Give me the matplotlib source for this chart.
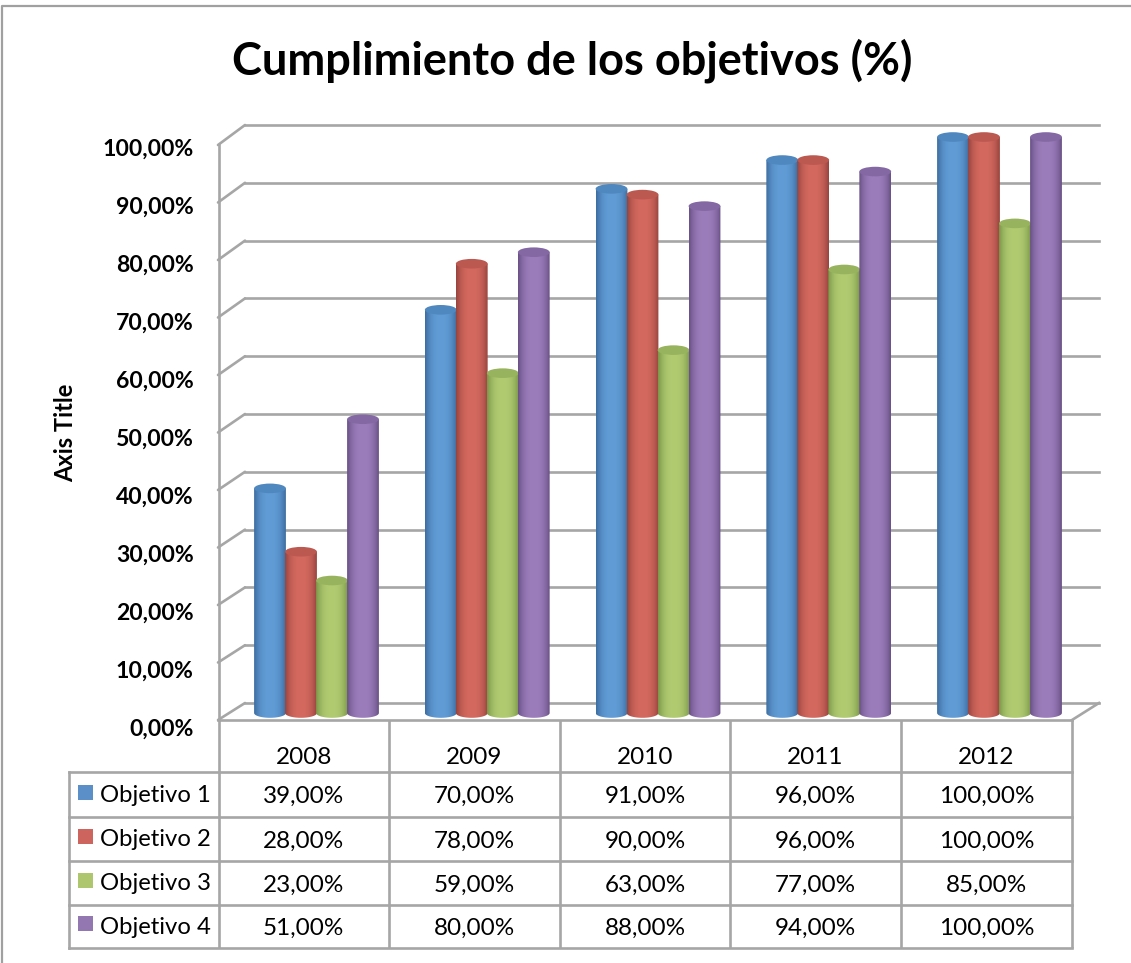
import numpy as np
import matplotlib
matplotlib.use("Agg")
import matplotlib.pyplot as plt
from matplotlib.path import Path
from matplotlib.patches import PathPatch, Ellipse, Rectangle
from matplotlib.colors import to_rgb

plt.rcParams['font.family'] = ['Lato', 'DejaVu Sans']

years = ['2008', '2009', '2010', '2011', '2012']
series_names = ['Objetivo 1', 'Objetivo 2', 'Objetivo 3', 'Objetivo 4']
objetivo_1 = [39, 70, 91, 96, 100]
objetivo_2 = [28, 78, 90, 96, 100]
objetivo_3 = [23, 59, 63, 77, 85]
objetivo_4 = [51, 80, 88, 94, 100]
series = [objetivo_1, objetivo_2, objetivo_3, objetivo_4]
yticks = list(range(0, 101, 10))

base_cols = ['#619cd6', '#d4695f', '#b0cb70', '#9b7dbb']
edge_cols = ['#3c6c9f', '#96433d', '#7b9749', '#695085']
cap_cols = ['#4f87bf', '#bb5850', '#98b35d', '#8468a4']
legend_cols = ['#5b8fc7', '#cd655e', '#aec76f', '#9377b0']
GRID = '#a6a6a6'
LW = 1.9
W, H = 1131, 963

fig = plt.figure(figsize=(W / 100, H / 100), dpi=100, facecolor='white')


def box(x0, ytop, x1, ybot):
    return [x0 / W, 1 - ybot / H, (x1 - x0) / W, (ybot - ytop) / H]


# pixel-space layer for frame, walls and table rules
chrome = fig.add_axes([0, 0, 1, 1], zorder=0)
chrome.set_xlim(0, W)
chrome.set_ylim(H, 0)
chrome.axis('off')

chrome.plot([2, 2, W], [H, 6, 6], color='#a0a0a0', lw=1.6)

# back wall grid
back = fig.add_axes(box(245, 125, 1099, 703), zorder=1)
back.set_ylim(0, 100)
back.set_xlim(0, 1)
back.patch.set_alpha(0)
for s in back.spines.values():
    s.set_visible(False)
back.set_xticks([])
back.set_yticks(yticks)
back.tick_params(left=False, labelleft=False)
back.grid(axis='y', color=GRID, lw=LW)
back.set_axisbelow(True)
for a in back.get_ygridlines():
    a.set_clip_on(False)

# axis labels
front = fig.add_axes(box(218, 147, 1072, 727), zorder=2)
front.set_ylim(0, 100)
front.set_xlim(0, 1)
front.patch.set_alpha(0)
for s in front.spines.values():
    s.set_visible(False)
front.set_xticks([])
front.set_yticks(yticks)
front.set_yticklabels([f'{v:.2f}'.replace('.', ',') + '%' for v in yticks],
                      fontsize=16.6, fontweight='bold', color='black')
front.tick_params(axis='y', length=0, pad=17.5)
front.set_ylabel('Axis Title', fontsize=17, fontweight='bold', color='black', labelpad=0)
front.yaxis.set_label_coords((77 - 218) / (1072 - 218), (727 - 433) / 580)

# front edge and diagonals joining it to the back wall
chrome.plot([218.5, 218.5], [145, 720], color=GRID, lw=LW)
chrome.plot([218, 1072], [720, 720], color=GRID, lw=LW)
for v in yticks:
    chrome.plot([218, 245], [720 - 5.75 * v, 703 - 5.78 * v], color=GRID, lw=LW,
                solid_capstyle='round')
chrome.plot([1072, 1099], [720, 703], color=GRID, lw=LW)

# table rules
col_x = [218.5, 389, 560, 730, 901, 1072]
row_y = [720, 772.5, 817, 861, 905, 948]
for x in col_x:
    chrome.plot([x, x], [720, 948], color=GRID, lw=LW, solid_capstyle='butt')
chrome.plot([69, 69], [772.5, 948], color=GRID, lw=LW)
for y in row_y[1:]:
    chrome.plot([69, 1072], [y, y], color=GRID, lw=LW)

# table texts
for i, yr in enumerate(years):
    cx = (col_x[i] + col_x[i + 1]) / 2
    chrome.text(cx, 758, yr, ha='center', va='center', fontsize=17.5, color='black')
    for j, vals in enumerate(series):
        cy = (row_y[j + 1] + row_y[j + 2]) / 2 + 2
        chrome.text(cx, cy, f'{vals[i]:.2f}'.replace('.', ',') + '%', ha='center',
                    va='center', fontsize=17.5, color='black')
for j, name in enumerate(series_names):
    cy = (row_y[j + 1] + row_y[j + 2]) / 2
    chrome.add_patch(Rectangle((78, cy - 10), 15, 15, fc=legend_cols[j], ec='none'))
    chrome.text(100, cy + 1, name, ha='left', va='center', fontsize=17.2, color='black')

chrome.text(572, 61, 'Cumplimiento de los objetivos (%)', ha='center', va='center',
            fontsize=32.5, fontweight='bold', color='black')

# cylinder layer: category index on x, percent on y, aligned with the picture
PX_X, PX_Y = 170.75, 5.76
Y0 = 713
bars = fig.add_axes([0, 0, 1, 1], zorder=3)
bars.patch.set_alpha(0)
bars.axis('off')
xlim = (-316.5 / PX_X, (W - 316.5) / PX_X)
ylim = (-(H - Y0) / PX_Y, Y0 / PX_Y)
half_w = 15.9 / PX_X
half_h = 4.8 / PX_Y
offsets = np.array([-46.5, -15.5, 15.5, 46.5]) / PX_X


def gradient(base, edge):
    b, e = np.array(to_rgb(base)), np.array(to_rgb(edge))
    t = np.linspace(-1, 1, 80)
    w = np.clip(np.abs(t) ** 2.6, 0, 1)[:, None]
    return (b * (1 - w) + e * w)[None, :, :]


for j, vals in enumerate(series):
    grad = gradient(base_cols[j], edge_cols[j])
    for i, v in enumerate(vals):
        c = i + offsets[j]
        th = np.linspace(np.pi, 2 * np.pi, 30)
        xs = np.r_[c + half_w * np.cos(th), c + half_w * np.cos(th[::-1])]
        ys = np.r_[half_h * np.sin(th), np.full(30, v)]
        outline = Path(np.c_[xs, ys])
        im = bars.imshow(grad, extent=(c - half_w, c + half_w, -half_h, v),
                         aspect='auto', interpolation='bilinear', zorder=3 + j * 0.1)
        im.set_clip_path(PathPatch(outline, transform=bars.transData))
        bars.add_patch(Ellipse((c, v), 2 * half_w, 2 * half_h, fc=cap_cols[j],
                               ec='none', zorder=3 + j * 0.1 + 0.01))
bars.set_xlim(*xlim)
bars.set_ylim(*ylim)

fig.savefig('out.png', dpi=100, facecolor='white')
